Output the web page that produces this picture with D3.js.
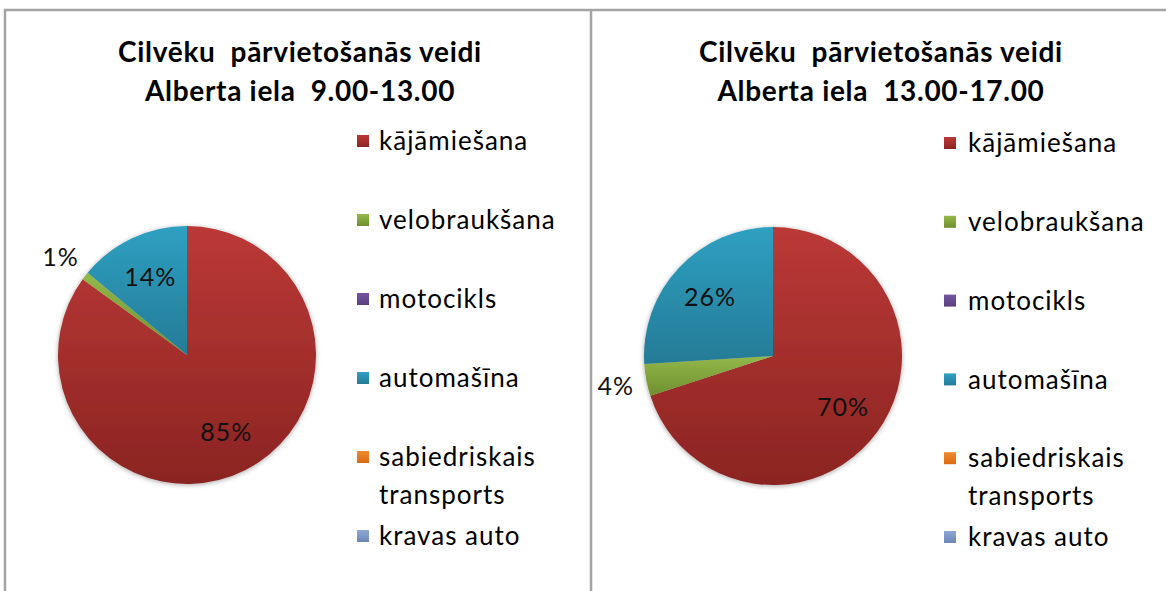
<!DOCTYPE html>
<html><head><meta charset="utf-8">
<script src="https://cdn.jsdelivr.net/npm/d3@7"></script>
<style>body{margin:0;background:#fff;overflow:hidden} text{white-space:pre}</style>
</head><body>
<svg id="c" width="1166" height="591"></svg>
<script>
const categories = ["kājāmiešana","velobraukšana","motocikls","automašīna","sabiedriskais transports","kravas auto"];
const valuesMorning = [85, 1, 0, 14, 0, 0];
const valuesAfternoon = [70, 4, 0, 26, 0, 0];
const titleMorning = ["Cilvēku  pārvietošanās veidi", "Alberta iela  9.00-13.00"];
const titleAfternoon = ["Cilvēku  pārvietošanās veidi", "Alberta iela  13.00-17.00"];
const colorTop = ["#bb3936", "#93b84a", "#7455a0", "#2fa0c2", "#f08a30", "#8fa8d6"];
const colorBottom = ["#8b2422", "#6f8f2f", "#5a3f80", "#247b96", "#d96b12", "#6d86b4"];

const svg = d3.select("#c");
const font = "Lato, 'Open Sans', sans-serif";
const defs = svg.append("defs");
categories.forEach((c, i) => {
  const g = defs.append("linearGradient").attr("id", "g" + i)
    .attr("x1", 0).attr("y1", 0).attr("x2", 0).attr("y2", 1);
  g.append("stop").attr("offset", "0%").attr("stop-color", colorTop[i]);
  g.append("stop").attr("offset", "100%").attr("stop-color", colorBottom[i]);
});
const f = defs.append("filter").attr("id", "sh").attr("x", "-10%").attr("y", "-10%").attr("width", "120%").attr("height", "120%");
f.append("feGaussianBlur").attr("in", "SourceAlpha").attr("stdDeviation", 2.5).attr("result", "b");
f.append("feOffset").attr("in", "b").attr("dx", 0).attr("dy", 1).attr("result", "o");
f.append("feComponentTransfer").attr("in", "o").attr("result", "o2")
  .append("feFuncA").attr("type", "linear").attr("slope", 0.35);
const fm = f.append("feMerge");
fm.append("feMergeNode").attr("in", "o2");
fm.append("feMergeNode").attr("in", "SourceGraphic");

// panel borders
svg.append("path").attr("d", "M5,600 V10 H1170").attr("fill", "none").attr("stroke", "#a3a3a3").attr("stroke-width", 2.5);
svg.append("line").attr("x1", 591).attr("x2", 591).attr("y1", 10).attr("y2", 600).attr("stroke", "#a3a3a3").attr("stroke-width", 2.5);

const charts = [
  {values: valuesMorning, title: titleMorning, cx: 187, cy: 355, titleX: 300, legendSq: 357, legendTx: 379, legendY: [141, 536]},
  {values: valuesAfternoon, title: titleAfternoon, cx: 773, cy: 356, titleX: 881, legendSq: 944, legendTx: 968, legendY: [143, 537]}
];
const r = 129;
const pie = d3.pie().sort(null).value(d => d.v);
const arc = d3.arc().innerRadius(0).outerRadius(r);
const inLab = d3.arc().innerRadius(r * 0.67).outerRadius(r * 0.67);
const outLab = d3.arc().innerRadius(r * 1.24).outerRadius(r * 1.24);

charts.forEach(ch => {
  const g = svg.append("g");
  g.append("text").attr("x", ch.titleX).attr("y", 0)
    .attr("font-family", font).attr("font-weight", "bold").attr("font-size", 28)
    .attr("letter-spacing", 0.7)
    .attr("text-anchor", "middle").attr("fill", "#000")
    .selectAll("tspan").data(ch.title).join("tspan")
    .attr("x", ch.titleX).attr("y", (d, i) => 62 + i * 39).text(d => d);

  const data = pie(categories.map((c, i) => ({c, v: ch.values[i], i})));
  const pg = g.append("g").attr("transform", `translate(${ch.cx},${ch.cy})`);
  pg.append("g").attr("filter", "url(#sh)").selectAll("path").data(data.filter(d => d.data.v > 0)).join("path")
    .attr("d", arc).attr("fill", d => `url(#g${d.data.i})`);
  pg.selectAll("text").data(data.filter(d => d.data.v > 0)).join("text")
    .attr("transform", d => `translate(${(d.data.v < 5 ? outLab : inLab).centroid(d)})`)
    .attr("text-anchor", "middle").attr("dy", "0.36em")
    .attr("font-family", font).attr("font-size", 25).attr("letter-spacing", 1).attr("fill", "#111")
    .text(d => d.data.v + "%");

  const ly = d3.scalePoint().domain(categories).range(ch.legendY);
  const items = g.selectAll("g.leg").data(categories).join("g").attr("class", "leg");
  items.append("rect").attr("x", ch.legendSq).attr("y", d => ly(d) - 6).attr("width", 12).attr("height", 12)
    .attr("fill", (d, i) => `url(#g${i})`);
  items.append("text").attr("font-family", font).attr("font-size", 26).attr("letter-spacing", 1).attr("fill", "#000")
    .each(function (d) {
      const t = d3.select(this);
      const words = d.split(" ");
      const lines = [];
      let cur = "";
      const probe = t.append("tspan");
      words.forEach(w => {
        const test = cur ? cur + " " + w : w;
        probe.text(test);
        if (cur && probe.node().getComputedTextLength() > 200) { lines.push(cur); cur = w; } else cur = test;
      });
      lines.push(cur);
      probe.remove();
      t.selectAll("tspan").data(lines).join("tspan")
        .attr("x", ch.legendTx).attr("y", (l, k) => ly(d) + k * 38).attr("dy", "0.35em").text(l => l);
    });
});
</script>
</body></html>
